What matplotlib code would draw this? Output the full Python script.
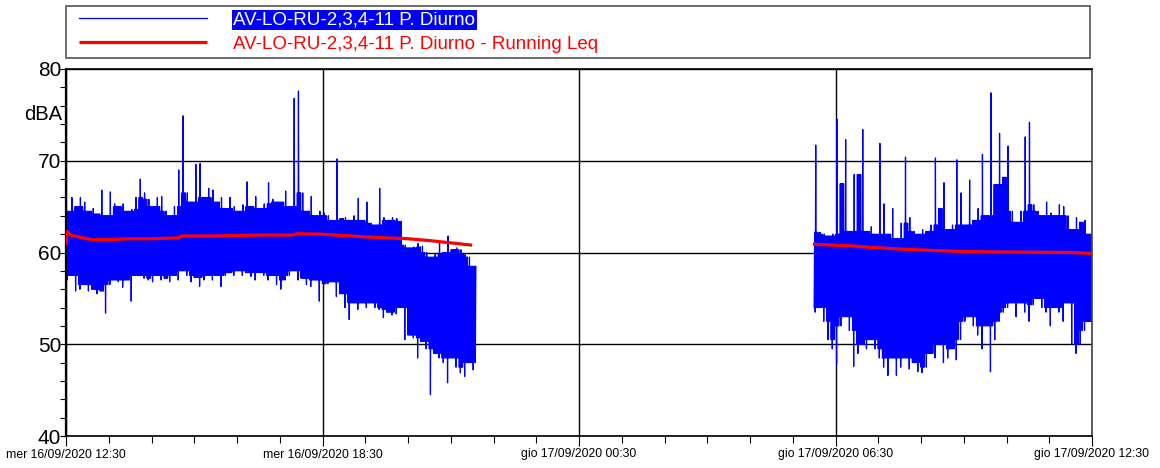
import numpy as np
import matplotlib
matplotlib.use("Agg")
import matplotlib.pyplot as plt
from matplotlib.lines import Line2D
from matplotlib.legend_handler import HandlerLine2D
from matplotlib.ticker import MultipleLocator

plt.rcParams['font.family'] = ['Liberation Sans', 'DejaVu Sans']

# -------- data (time = hours after mer 16/09/2020 12:30) --------
SERIES_LABEL = "AV-LO-RU-2,3,4-11 P. Diurno"
LEQ_LABEL = "AV-LO-RU-2,3,4-11 P. Diurno - Running Leq"

tick_hours = [0, 6, 12, 18, 24]
tick_labels = ["mer 16/09/2020 12:30", "mer 16/09/2020 18:30",
               "gio 17/09/2020 00:30", "gio 17/09/2020 06:30",
               "gio 17/09/2020 12:30"]

# first block: min/max reading every 0.1 h from 0.0 to 9.5
seg1_start, seg1_end = 0.0, 9.5
seg1_upper = [64.5, 66.0, 65.0, 66.0, 65.5, 64.5, 64.8, 64.2, 66.8, 64.0,
              66.6, 65.3, 65.0, 65.3, 64.5, 64.7, 66.0, 68.0, 66.5, 65.8,
              65.0, 66.0, 66.1, 64.5, 64.0, 65.0, 69.0, 74.9, 66.5, 65.5,
              69.6, 69.7, 66.0, 67.0, 66.8, 65.5, 66.0, 64.8, 66.0, 65.0,
              64.5, 65.2, 67.7, 65.0, 66.1, 64.8, 65.3, 67.6, 65.8, 65.5,
              65.5, 66.7, 65.0, 76.8, 77.6, 66.5, 64.5, 66.1, 64.0, 64.5,
              64.3, 64.0, 63.5, 70.2, 63.7, 63.8, 63.5, 64.0, 65.9, 63.5,
              65.5, 63.2, 63.0, 67.0, 63.8, 63.5, 63.8, 63.7, 63.4, 60.8,
              60.5, 60.6, 61.0, 60.7, 60.0, 59.5, 59.8, 61.0, 60.0, 61.8,
              60.3, 60.5, 60.3, 59.8, 59.5, 58.5]
seg1_lower = [57.0, 57.5, 55.8, 56.0, 56.5, 55.8, 56.0, 55.5, 55.8, 53.4,
              56.5, 57.0, 56.8, 56.2, 57.0, 54.7, 57.5, 57.5, 57.2, 57.0,
              56.8, 57.5, 57.0, 57.2, 56.8, 57.5, 57.0, 58.0, 57.5, 56.8,
              57.3, 56.3, 57.0, 57.5, 57.0, 57.5, 56.3, 57.5, 57.8, 57.5,
              58.0, 57.5, 57.8, 57.4, 57.0, 57.8, 57.5, 57.0, 57.5, 56.5,
              56.0, 57.0, 57.5, 58.0, 57.0, 57.2, 56.5, 56.3, 57.0, 54.7,
              56.5, 56.6, 56.8, 55.2, 55.5, 54.0, 52.7, 54.5, 53.8, 54.5,
              54.0, 54.5, 54.0, 53.8, 52.9, 53.5, 53.2, 53.3, 54.0, 50.5,
              51.0, 50.7, 48.5, 50.3, 49.5, 44.5, 49.0, 48.5, 48.0, 45.8,
              48.5, 47.5, 46.9, 46.5, 48.0, 47.2]

# second block: min/max reading every 0.1 h from 17.5 to 24.0
seg2_start, seg2_end = 17.5, 24.0
seg2_upper = [71.7, 62.2, 62.0, 61.8, 62.0, 74.5, 67.5, 72.3, 62.3, 68.5,
              68.5, 73.4, 62.3, 62.8, 62.0, 71.9, 65.3, 62.0, 64.8, 61.5,
              63.2, 70.4, 63.8, 62.3, 62.0, 62.5, 62.3, 63.0, 70.3, 64.8,
              67.6, 62.5, 63.0, 70.1, 66.5, 63.0, 67.9, 63.5, 64.8, 70.7,
              64.0, 77.4, 67.4, 73.0, 68.2, 71.6, 64.5, 63.3, 64.5, 72.6,
              74.2, 65.2, 64.5, 64.0, 65.5, 64.3, 64.0, 65.2, 65.0, 64.0,
              62.5, 63.8, 63.3, 63.5, 62.0, 62.3]
seg2_lower = [53.5, 54.0, 52.5, 50.5, 49.5, 47.8, 52.0, 53.0, 51.5, 47.6,
              49.0, 50.0, 49.5, 50.5, 49.5, 48.5, 47.5, 46.6, 48.5, 46.6,
              47.5, 48.5, 47.3, 48.0, 47.0, 46.9, 47.5, 49.0, 48.5, 50.0,
              48.0, 48.5, 49.5, 48.3, 50.5, 52.5, 53.0, 52.0, 51.0, 49.5,
              52.0, 47.0, 50.5, 52.5, 53.5, 54.0, 54.5, 53.0, 54.5, 53.5,
              52.5, 54.3, 55.0, 54.0, 53.5, 52.0, 54.0, 53.5, 52.5, 54.5,
              50.0, 49.0, 50.0, 51.5, 52.5, 51.5]

# running Leq readings
leq1_hours = [0.0, 0.02, 0.1, 0.3, 0.6, 1.0, 1.5, 2.0, 2.65, 2.7, 3.5, 4.5,
              5.3, 5.4, 6.0, 6.5, 7.0, 7.5, 8.0, 8.5, 9.0, 9.5]
leq1_values = [60.8, 62.3, 61.9, 61.7, 61.4, 61.4, 61.5, 61.5, 61.6, 61.8,
               61.8, 61.9, 61.9, 62.05, 62.0, 61.85, 61.7, 61.6, 61.5, 61.3,
               61.05, 60.8]
leq2_hours = [17.47, 18.46, 18.85, 19.63, 20.41, 21.03, 21.96, 23.5, 24.0]
leq2_values = [60.9, 60.7, 60.55, 60.35, 60.2, 60.1, 60.05, 60.0, 59.9]


def envelope_trace(start, end, lower, upper, swings=4):
    # each 0.1 h slot: one swing out to the slot's own min/max, the other
    # swings only reach as far as the neighbouring slots do, so isolated
    # peaks stay thin while the body of the record is solid
    t = np.linspace(start, end, len(lower))
    step = (t[1] - t[0]) / (2 * swings)
    n = len(t)
    xs, ys = [], []
    for k in range(n):
        nb = slice(max(k - 1, 0), min(k + 2, n))
        hi_n = min(upper[nb])
        lo_n = max(lower[nb])
        for j in range(swings):
            xs += [t[k] + 2 * j * step, t[k] + (2 * j + 1) * step]
            ys += [lower[k], upper[k]] if j == 1 else [lo_n, hi_n]
    return np.array(xs), np.array(ys)


x1, y1 = envelope_trace(seg1_start, seg1_end, seg1_lower, seg1_upper)
x2, y2 = envelope_trace(seg2_start, seg2_end, seg2_lower, seg2_upper)
blue_x = np.concatenate([x1, [np.nan], x2])
blue_y = np.concatenate([y1, [np.nan], y2])
red_x = np.concatenate([leq1_hours, [np.nan], leq2_hours])
red_y = np.concatenate([leq1_values, [np.nan], leq2_values])

# -------- figure --------
W, H = 1160, 468
fig = plt.figure(figsize=(W / 100, H / 100), dpi=100)
ax = fig.add_axes([66 / W, 1 - 436 / H, (1092 - 66) / W, (436 - 69) / H])

blue_line, = ax.plot(blue_x, blue_y, color="#0000FF", lw=0.9, zorder=2,
                     label=SERIES_LABEL)
red_line, = ax.plot(red_x, red_y, color="#FF0000", lw=2.3, zorder=3,
                    solid_capstyle="butt", label=LEQ_LABEL)

ax.set_xlim(0, 24)
ax.set_ylim(40, 80)
ax.set_xticks(tick_hours)
ax.set_xticklabels(tick_labels, fontsize=8.8)
ax.xaxis.set_minor_locator(MultipleLocator(1))
ax.yaxis.set_major_locator(MultipleLocator(10))
ax.yaxis.set_minor_locator(MultipleLocator(2))
ax.tick_params(axis="x", which="major", direction="out", length=7.5, width=0.8, pad=1.5)
ax.tick_params(axis="x", which="minor", direction="out", length=5, width=0.8)
ax.tick_params(axis="y", which="major", direction="out", length=4.5, width=0.8,
               labelsize=15, pad=-1)
ax.tick_params(axis="y", which="minor", direction="out", length=4.5, width=0.8)

ax.grid(True, which="major", color="black", lw=1.0)
ax.set_axisbelow(True)
for side, s in ax.spines.items():
    s.set_color("black")
    s.set_linewidth(1.2)
ax.spines["left"].set_linewidth(1.6)
ax.spines["right"].set_color("#444444")

ax.text(-0.004, 75, "dBA", transform=ax.get_yaxis_transform(), ha="right",
        va="center", fontsize=14.5)

# -------- legend box above the plot --------
leg = fig.legend(handles=[blue_line, red_line],
                 loc="upper left",
                 bbox_to_anchor=(66 / W, 1 - 58 / H, (1090 - 66) / W, 52 / H),
                 mode="expand", ncol=1, fontsize=13.5, frameon=True,
                 fancybox=False, framealpha=1, edgecolor="#555555",
                 borderpad=0.28, labelspacing=0.4, handlelength=7.24,
                 handletextpad=1.39, borderaxespad=0,
                 handler_map={Line2D: HandlerLine2D(xpad=0.41)})
leg.get_frame().set_linewidth(1.2)
leg.get_lines()[0].set_linewidth(0.9)
leg.get_lines()[1].set_linewidth(2.3)
t0, t1 = leg.get_texts()
t0.set_color("white")
t0.set_bbox(dict(boxstyle="square,pad=0.08", facecolor="#0000FF", edgecolor="none"))
t1.set_color("#FF0000")

fig.savefig("out.png", dpi=100)
